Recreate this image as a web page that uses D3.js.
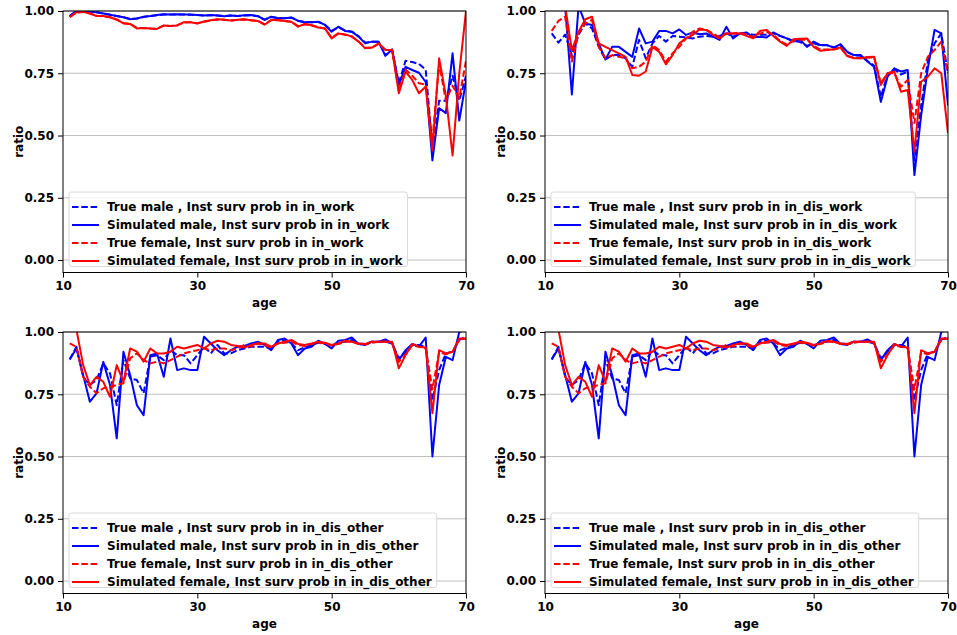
<!DOCTYPE html>
<html lang="en">
<head>
<meta charset="utf-8">
<title>Inst surv prob, true vs simulated</title>
<script src="https://d3js.org/d3.v7.min.js"></script>
<style>
  body { margin: 0; background: #fff; }
  text { font-family: "DejaVu Sans", sans-serif; font-weight: bold; }
</style>
</head>
<body>
<script>
// ages on the x axis
var ages = d3.range(11, 71);

// in_work
var workTrueMale = [.98,1.0,1.0,.997,.995,.99,.985,.98,.975,.968,.97,.976,.98,.983,.986,.986,.986,.986,.985,.984,.982,.983,.982,.98,.982,.98,.982,.983,.979,.965,.976,.972,.971,.973,.961,.956,.955,.956,.945,.92,.935,.921,.917,.899,.873,.877,.876,.822,.845,.71,.80,.795,.787,.765,.45,.64,.64,.74,.64,.74];
var workSimMale = [.98,1.0,1.0,.997,.995,.99,.985,.98,.975,.967,.97,.977,.98,.984,.987,.986,.987,.986,.986,.984,.982,.984,.982,.979,.982,.98,.983,.984,.98,.964,.977,.971,.971,.974,.96,.955,.955,.957,.944,.917,.937,.92,.917,.897,.87,.877,.877,.82,.846,.703,.776,.763,.752,.715,.40,.61,.59,.83,.56,.72];
var workTrueFemale = [.976,.994,.996,.99,.981,.979,.975,.966,.952,.948,.932,.932,.93,.929,.941,.94,.942,.954,.955,.951,.957,.962,.966,.965,.962,.964,.966,.963,.96,.947,.963,.963,.96,.957,.939,.947,.943,.935,.93,.892,.91,.905,.898,.878,.852,.853,.868,.845,.843,.68,.765,.74,.71,.705,.48,.79,.64,.70,.65,.80];
var workSimFemale = [.975,.995,.997,.99,.98,.98,.975,.965,.95,.948,.93,.932,.93,.928,.942,.94,.942,.955,.955,.95,.958,.963,.967,.965,.962,.965,.967,.963,.96,.945,.964,.964,.96,.957,.937,.948,.943,.934,.93,.89,.91,.906,.897,.877,.85,.853,.87,.843,.843,.67,.757,.723,.67,.697,.44,.81,.66,.42,.75,1.0];

// in_dis_work
var disWorkTrueMale = [.91,.873,.905,.823,.905,.95,.93,.856,.805,.823,.823,.81,.776,.884,.81,.87,.90,.877,.90,.897,.894,.89,.897,.90,.897,.90,.91,.897,.91,.91,.905,.905,.905,.91,.90,.89,.88,.875,.86,.87,.862,.862,.855,.86,.835,.822,.82,.80,.78,.655,.745,.766,.745,.757,.40,.62,.80,.87,.91,.75];
var disWorkSimMale = [1.02,1.02,1.02,.665,1.02,.95,.944,.87,.805,.856,.856,.836,.816,.93,.87,.877,.92,.92,.91,.926,.904,.914,.907,.91,.897,.884,.937,.89,.91,.914,.894,.897,.894,.914,.90,.89,.877,.884,.856,.877,.863,.863,.853,.867,.836,.823,.823,.797,.776,.635,.736,.77,.757,.763,.341,.58,.77,.924,.91,.62];
var disWorkTrueFemale = [.92,.96,.977,.797,.91,.95,.964,.856,.81,.823,.816,.81,.77,.776,.797,.863,.843,.797,.83,.856,.89,.917,.93,.924,.91,.894,.91,.91,.914,.905,.895,.91,.915,.905,.88,.865,.88,.885,.885,.86,.845,.845,.845,.852,.82,.812,.81,.812,.814,.71,.75,.75,.696,.723,.55,.75,.816,.843,.877,.75];
var disWorkSimFemale = [1.02,1.02,1.02,.843,.917,.967,.977,.87,.856,.843,.83,.816,.743,.74,.757,.856,.836,.786,.823,.87,.89,.904,.926,.924,.904,.89,.91,.91,.91,.90,.89,.92,.924,.90,.877,.86,.887,.889,.89,.856,.84,.843,.846,.854,.819,.81,.81,.815,.816,.703,.75,.757,.676,.683,.435,.716,.736,.77,.75,.51];

// in_dis_other
var otherTrueMale = [.89,.941,.82,.787,.807,.874,.834,.706,.887,.814,.807,.754,.901,.907,.887,.927,.907,.907,.874,.907,.941,.914,.948,.914,.914,.927,.934,.941,.941,.941,.934,.961,.965,.954,.927,.938,.948,.957,.952,.944,.961,.961,.968,.954,.952,.961,.961,.961,.954,.894,.921,.948,.948,.941,.727,.847,.914,.921,.968,.981];
var otherSimMale = [.89,.934,.827,.72,.754,.88,.787,.573,.921,.827,.706,.666,.907,.914,.82,.974,.847,.854,.847,.847,.981,.954,.927,.907,.927,.941,.944,.954,.961,.948,.927,.968,.974,.954,.907,.934,.941,.965,.952,.934,.965,.968,.978,.952,.948,.961,.961,.97,.954,.887,.927,.952,.941,.978,.5,.787,.9,.887,1.0,1.01];
var otherTrueFemale = [.954,.941,.82,.78,.754,.774,.78,.787,.794,.894,.914,.887,.874,.881,.874,.887,.901,.914,.921,.927,.934,.927,.934,.934,.927,.934,.948,.941,.954,.948,.938,.954,.957,.961,.948,.944,.952,.957,.954,.946,.952,.961,.961,.952,.95,.957,.961,.961,.957,.88,.91,.946,.941,.934,.77,.92,.91,.92,.968,.974];
var otherSimFemale = [1.01,1.01,.867,.787,.82,.80,.74,.867,.80,.934,.921,.881,.934,.914,.914,.921,.941,.934,.941,.948,.934,.954,.965,.961,.948,.944,.938,.948,.954,.954,.941,.954,.961,.968,.952,.948,.954,.961,.957,.948,.954,.965,.961,.954,.952,.961,.961,.961,.961,.854,.907,.952,.941,.938,.674,.927,.914,.921,.974,.974];

var xTicks = [10, 30, 50, 70];
var yTicks = [0, 0.25, 0.5, 0.75, 1.0];

var width = 957, height = 635;
var panelW = 403, panelH = 261.5;

// one entry per subplot: left, top, state name, the four series
var panels = [
    {left: 63,  top: 11,  state: "in_work",      s: [workTrueMale, workSimMale, workTrueFemale, workSimFemale]},
    {left: 545, top: 11,  state: "in_dis_work",  s: [disWorkTrueMale, disWorkSimMale, disWorkTrueFemale, disWorkSimFemale]},
    {left: 63,  top: 332, state: "in_dis_other", s: [otherTrueMale, otherSimMale, otherTrueFemale, otherSimFemale]},
    {left: 545, top: 332, state: "in_dis_other", s: [otherTrueMale, otherSimMale, otherTrueFemale, otherSimFemale]}
];

var styles = [
    {color: "blue", dash: "6.5,2.8", name: "True male , Inst surv prob in "},
    {color: "blue", dash: null,      name: "Simulated male, Inst surv prob in "},
    {color: "red",  dash: "6.5,2.8", name: "True female, Inst surv prob in "},
    {color: "red",  dash: null,      name: "Simulated female, Inst surv prob in "}
];

var svg = d3.select("body").append("svg")
    .attr("width", width)
    .attr("height", height);

var x = d3.scaleLinear().domain([10, 70]).range([0, panelW]);
var y = d3.scaleLinear().domain([-0.05, 1.0]).range([panelH, 0]);

panels.forEach(function(p, i) {
    var g = svg.append("g").attr("transform", "translate(" + p.left + "," + p.top + ")");

    g.append("clipPath").attr("id", "clip" + i)
        .append("rect").attr("width", panelW).attr("height", panelH);

    // horizontal grid
    g.selectAll(".grid").data(yTicks).enter().append("line")
        .attr("x1", 0).attr("x2", panelW)
        .attr("y1", function(d) { return y(d); })
        .attr("y2", function(d) { return y(d); })
        .attr("stroke", "#b0b0b0").attr("stroke-width", 0.8);

    var line = d3.line()
        .x(function(d, j) { return x(ages[j]); })
        .y(function(d) { return y(d); });

    p.s.forEach(function(vals, k) {
        g.append("path")
            .attr("clip-path", "url(#clip" + i + ")")
            .attr("d", line(vals))
            .attr("fill", "none")
            .attr("stroke", styles[k].color)
            .attr("stroke-width", 2)
            .attr("stroke-dasharray", styles[k].dash)
            .attr("stroke-linejoin", "round");
    });

    // axes
    var xAxis = g.append("g").attr("transform", "translate(0," + panelH + ")")
        .call(d3.axisBottom(x).tickValues(xTicks).tickSize(5).tickPadding(4).tickFormat(d3.format("d")));
    var yAxis = g.append("g")
        .call(d3.axisLeft(y).tickValues(yTicks).tickSize(5).tickPadding(4).tickFormat(d3.format(".2f")));
    [xAxis, yAxis].forEach(function(a) {
        a.select(".domain").remove();
        a.selectAll("text").attr("font-size", 12).attr("fill", "#000")
            .style("font-family", "'DejaVu Sans', sans-serif").style("font-weight", "bold");
        a.selectAll("line").attr("stroke", "#000").attr("stroke-width", 1);
    });

    g.append("rect").attr("width", panelW).attr("height", panelH)
        .attr("fill", "none").attr("stroke", "#000").attr("stroke-width", 1);

    g.append("text")
        .attr("x", panelW / 2).attr("y", panelH + 34)
        .attr("text-anchor", "middle").attr("font-size", 12)
        .text("age");
    g.append("text")
        .attr("transform", "translate(-40," + (panelH / 2) + ") rotate(-90)")
        .attr("text-anchor", "middle").attr("font-size", 12)
        .text("ratio");

    // legend, lower left
    var lg = g.append("g").attr("transform", "translate(6," + (panelH - 80.5) + ")");
    var rows = styles.map(function(st) { return st.name + p.state; });
    var lgText = lg.selectAll(".lt").data(rows).enter().append("text")
        .attr("x", 38).attr("y", function(d, j) { return 15 + j * 18; })
        .attr("dy", "0.35em").attr("font-size", 12)
        .text(function(d) { return d; });
    var maxW = d3.max(lgText.nodes(), function(n) { return n.getComputedTextLength(); });
    lg.insert("rect", ":first-child")
        .attr("width", 38 + maxW + 5).attr("height", 74.5)
        .attr("rx", 2.5)
        .attr("fill", "#fff").attr("fill-opacity", 0.8)
        .attr("stroke", "#d9d9d9").attr("stroke-width", 1);
    lg.selectAll(".lh").data(styles).enter().append("line")
        .attr("x1", 3).attr("x2", 30)
        .attr("y1", function(d, j) { return 15 + j * 18; })
        .attr("y2", function(d, j) { return 15 + j * 18; })
        .attr("stroke", function(d) { return d.color; })
        .attr("stroke-width", 2)
        .attr("stroke-dasharray", function(d) { return d.dash; });
});
</script>
</body>
</html>
